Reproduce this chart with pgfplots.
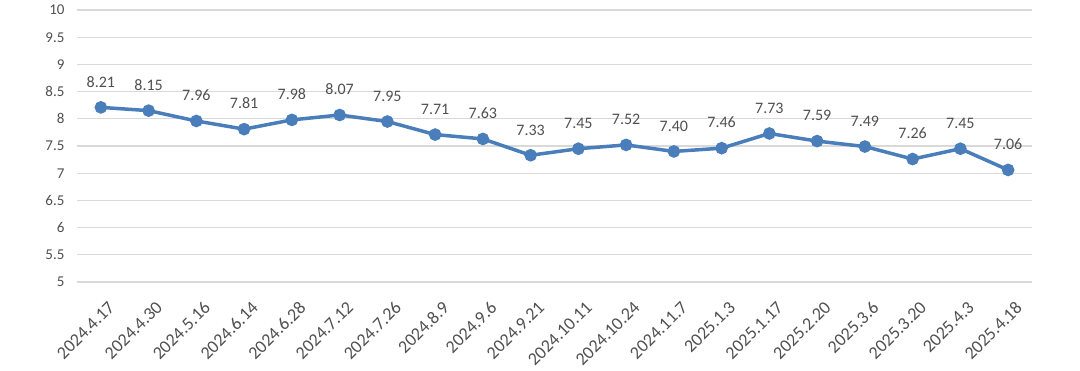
\documentclass[border=0pt]{standalone}
\usepackage{pgfplots}
\pgfplotsset{compat=1.18}
\usepackage{fontspec}
\setmainfont{Carlito}
\definecolor{linec}{RGB}{74,126,187}
\definecolor{txt}{RGB}{80,80,80}
\definecolor{gridc}{RGB}{217,217,217}
\begin{document}
\begin{tikzpicture}
\begin{axis}[
  at={(0,0)}, anchor=south west,
  scale only axis, width=955bp, height=272bp,
  xmin=-0.5, xmax=19.5, ymin=5, ymax=10,
  ytick={5,5.5,...,10},
  xtick={0,...,19},
  xticklabels={2024.4.17,2024.4.30,2024.5.16,2024.6.14,2024.6.28,2024.7.12,2024.7.26,2024.8.9,2024.9.6,2024.9.21,2024.10.11,2024.10.24,2024.11.7,2025.1.3,2025.1.17,2025.2.20,2025.3.6,2025.3.20,2025.4.3,2025.4.18},
  axis line style={draw=none},
  major tick length=0pt,
  ymajorgrids, grid style={gridc, line width=1.2bp},
  /pgf/number format/assume math mode=true,
  yticklabel style={font=\fontsize{15bp}{17bp}\selectfont, text=txt, xshift=-9bp},
  xticklabel style={font=\fontsize{18bp}{20bp}\selectfont, text=txt, rotate=45, anchor=north east, xshift=-5bp, yshift=-14bp},
  nodes near coords={\pgfmathprintnumber[fixed,zerofill,precision=2]{\pgfplotspointmeta}},
  every node near coord/.append style={font=\fontsize{16bp}{18bp}\selectfont, text=txt, anchor=south, yshift=15bp},
  clip=false,
]
\addplot[color=linec, line width=3.5bp, mark=*, mark size=4.5bp, mark options={fill=linec, draw=linec}] coordinates {
(0,8.21) (1,8.15) (2,7.96) (3,7.81) (4,7.98) (5,8.07) (6,7.95) (7,7.71) (8,7.63) (9,7.33)
(10,7.45) (11,7.52) (12,7.40) (13,7.46) (14,7.73) (15,7.59) (16,7.49) (17,7.26) (18,7.45) (19,7.06)
};
\end{axis}
\pgfresetboundingbox
\path (-77bp,-89bp) rectangle (1003bp,282bp);
\end{tikzpicture}
\end{document}
